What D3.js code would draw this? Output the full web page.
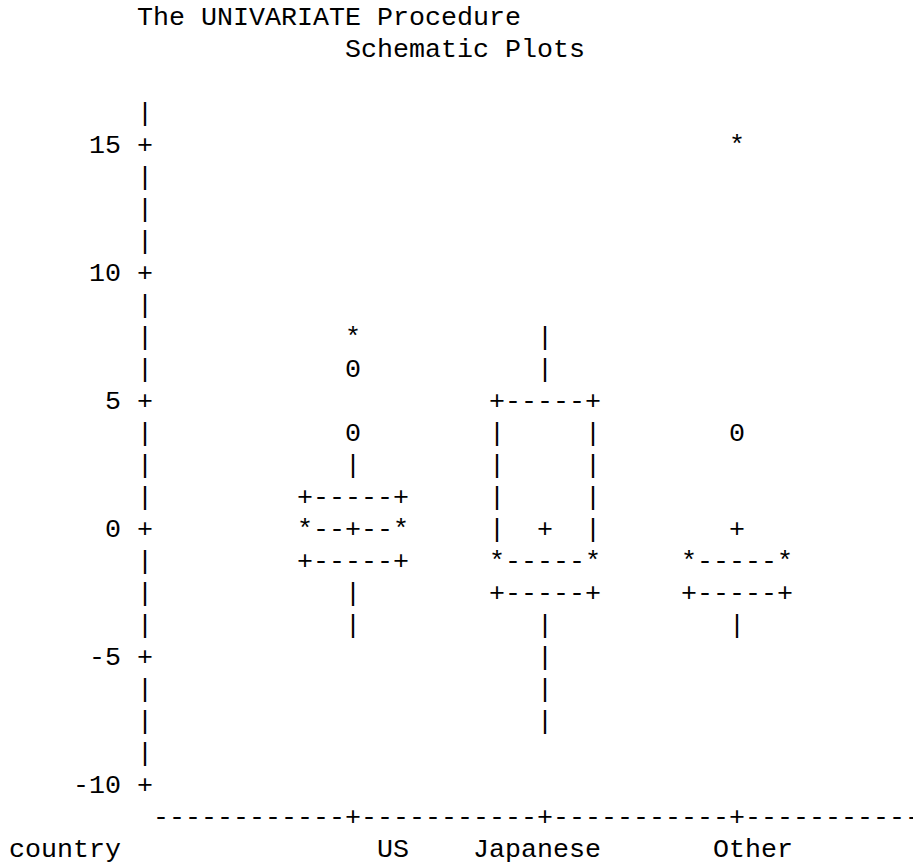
<!DOCTYPE html>
<html>
<head>
<meta charset="utf-8">
<script src="https://cdn.jsdelivr.net/npm/d3@7"></script>
<style>
  body { margin: 0; background: #fff; }
  text { font-family: "Liberation Mono", monospace; font-size: 26.667px; fill: #000; }
</style>
</head>
<body>
<script>
// Chart values
var countries = ["US", "Japanese", "Other"];
var q1 = [-1.2, -2.6, -2.5];
var median = [0.1, -1.2, -1.3];
var q3 = [1.3, 5.0, -1.2];
var mean = [0.0, 0.1, 0.1];
var whiskLo = [-3.9, -7.8, -3.9];
var whiskHi = [2.4, 7.6, -1.2];
var nearOut = [[6.3, 3.8], [], [3.6]];   // drawn as "0"
var farOut = [[7.6], [], [15.0]];        // drawn as "*"
var yTicks = [15, 10, 5, 0, -5, -10];

var titles = ["The UNIVARIATE Procedure", "Schematic Plots"];
var xName = "country";

// Character grid
var W = 913, H = 863;
var colW = 16, rowH = 32, x0 = 9, plotTop = 144, base = 9;
function colX(c) { return x0 + c * colW; }              // left edge of a column
function rowY(r) { return plotTop + r * rowH + base; }  // baseline of a row

var svg = d3.select("body").append("svg").attr("width", W).attr("height", H);

// Scales
var y = d3.scaleLinear().domain([15, -10]).range([plotTop, plotTop + 20 * rowH]);
function row(v) { return Math.round((y(v) - plotTop) / rowH); }
var x = d3.scalePoint().domain(countries).range([colX(21) + colW / 2, colX(45) + colW / 2]);

// Titles
svg.append("text").attr("x", colX(8)).attr("y", rowY(-4)).text(titles[0]);
svg.append("text").attr("x", colX(21)).attr("y", rowY(-3)).text(titles[1]);

// Y axis made of characters
var axisCol = colX(8) + colW / 2;
var tickRows = yTicks.map(row);
var axisCells = d3.range(-1, row(-10) + 1).map(function(r) {
    return { r: r, ch: tickRows.indexOf(r) >= 0 ? "+" : "|" };
});
svg.selectAll("text.yaxis").data(axisCells).enter().append("text")
    .attr("class", "yaxis")
    .attr("x", axisCol).attr("y", function(d) { return rowY(d.r); })
    .attr("text-anchor", "middle")
    .text(function(d) { return d.ch; });
svg.selectAll("text.ytick").data(yTicks).enter().append("text")
    .attr("class", "ytick")
    .attr("x", colX(7)).attr("y", function(d) { return rowY(row(d)); })
    .attr("text-anchor", "end")
    .text(function(d) { return d; });

// X axis line
var xRow = row(-10) + 1;
var tickCols = countries.map(function(c) { return Math.round((x(c) - colW / 2 - x0) / colW); });
var xCells = d3.range(9, 57).map(function(c) {
    return { c: c, ch: tickCols.indexOf(c) >= 0 ? "+" : "-" };
});
svg.selectAll("text.xaxis").data(xCells).enter().append("text")
    .attr("class", "xaxis")
    .attr("x", function(d) { return colX(d.c) + colW / 2; })
    .attr("y", rowY(xRow))
    .attr("text-anchor", "middle")
    .text(function(d) { return d.ch; });

// X labels
svg.append("text").attr("x", colX(0)).attr("y", rowY(xRow + 1)).text(xName);
svg.selectAll("text.xlab").data(countries).enter().append("text")
    .attr("class", "xlab")
    .attr("x", function(d) { return x(d) + 3.5 * colW; })
    .attr("y", rowY(xRow + 1))
    .attr("text-anchor", "end")
    .text(function(d) { return d; });

// Box plots as character cells
var cells = [];
countries.forEach(function(name, i) {
    var grid = {};
    function put(r, k, ch) { grid[r + "," + k] = { name: name, r: r, k: k, ch: ch }; }
    function edge(r, endCh) {
        for (var k = -3; k <= 3; k++) put(r, k, (k === -3 || k === 3) ? endCh : "-");
    }
    var rTop = row(q3[i]), rBot = row(q1[i]);
    edge(rTop, "+");
    edge(rBot, "+");
    for (var r = rTop + 1; r < rBot; r++) { put(r, -3, "|"); put(r, 3, "|"); }
    for (r = row(whiskHi[i]); r < rTop; r++) put(r, 0, "|");
    for (r = rBot + 1; r <= row(whiskLo[i]); r++) put(r, 0, "|");
    edge(row(median[i]), "*");
    put(row(mean[i]), 0, "+");
    nearOut[i].forEach(function(v) { put(row(v), 0, "0"); });
    farOut[i].forEach(function(v) { put(row(v), 0, "*"); });
    cells = cells.concat(Object.values(grid));
});

svg.selectAll("text.box").data(cells).enter().append("text")
    .attr("class", "box")
    .attr("x", function(d) { return x(d.name) + d.k * colW; })
    .attr("y", function(d) { return rowY(d.r); })
    .attr("text-anchor", "middle")
    .text(function(d) { return d.ch; });
</script>
</body>
</html>
